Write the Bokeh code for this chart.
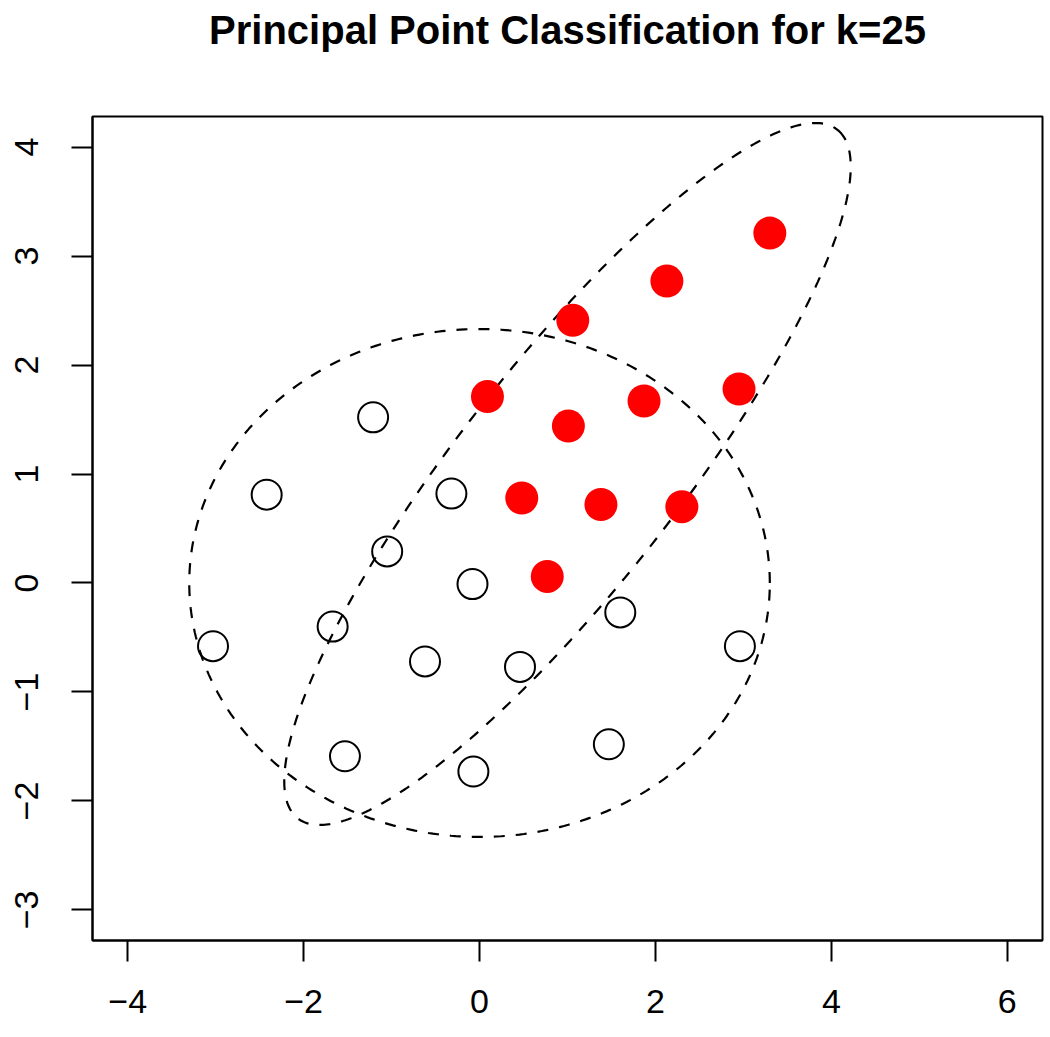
import numpy as np
from bokeh.plotting import figure
from bokeh.models import Range1d, FixedTicker, Title
from bokeh.embed import file_html
from bokeh.resources import INLINE

# ---- data ----
red_x = [3.30, 2.13, 1.06, 0.09, 1.01, 1.87, 2.95, 0.48, 1.38, 2.30, 0.77]
red_y = [3.21, 2.77, 2.41, 1.71, 1.44, 1.67, 1.78, 0.78, 0.72, 0.70, 0.06]

open_x = [-1.21, -2.42, -0.32, -1.05, -0.08, -3.03, -1.67, -0.62, 0.46, 1.60, 2.96, -1.53, -0.07, 1.47]
open_y = [1.52, 0.81, 0.82, 0.29, -0.01, -0.58, -0.40, -0.72, -0.77, -0.27, -0.58, -1.59, -1.73, -1.48]

# ellipses: centre x, centre y, semi-axis a, semi-axis b, angle of a (degrees)
ell_cx = [0.0, 1.0]
ell_cy = [0.0, 1.0]
ell_a = [3.30, 4.41]
ell_b = [2.33, 1.136]
ell_angle = [0.0, 45.0]

x_ticks = [-4, -2, 0, 2, 4, 6]
y_ticks = [-3, -2, -1, 0, 1, 2, 3, 4]
title_text = "Principal Point Classification for k=25"

FONT = "Liberation Sans"
XR = (-4.4, 6.4)
YR = (-3.28, 4.28)
FW, FH = 950, 824

p = figure(
    x_range=Range1d(*XR),
    y_range=Range1d(*YR),
    frame_width=FW, frame_height=FH,
    min_border_left=92, min_border_right=2,
    min_border_top=116, min_border_bottom=80,
    output_backend="svg", toolbar_location=None,
    background_fill_color="white", border_fill_color="white",
)

p.xgrid.visible = False
p.ygrid.visible = False
p.outline_line_color = "black"
p.outline_line_width = 2

for ax, ticks in ((p.xaxis[0], x_ticks), (p.yaxis[0], y_ticks)):
    ax.ticker = FixedTicker(ticks=ticks)
    ax.major_label_overrides = {t: (str(t).replace("-", "\u2212")) for t in ticks}
    ax.major_label_text_font = FONT
    ax.major_label_text_font_size = "34px"
    ax.major_label_text_color = "black"
    ax.axis_line_color = "black"
    ax.axis_line_width = 2
    ax.major_tick_line_color = "black"
    ax.major_tick_line_width = 2
    ax.major_tick_out = 21
    ax.major_tick_in = 0
    ax.minor_tick_line_color = None
p.xaxis[0].major_label_standoff = 28
p.yaxis[0].major_label_standoff = 33
p.yaxis[0].major_label_orientation = "vertical"

# spacer title (closest to the frame) then the real title above it
p.add_layout(Title(text=" ", text_font_size="1px", standoff=62), "above")
p.add_layout(Title(text=title_text, align="center", text_font=FONT,
                   text_font_style="bold", text_font_size="40px",
                   text_color="black", standoff=0), "above")

# ellipse outlines
t = np.linspace(0, 2 * np.pi, 400)
for cx, cy, a, b, ang in zip(ell_cx, ell_cy, ell_a, ell_b, ell_angle):
    th = np.deg2rad(ang)
    ex = cx + a * np.cos(t) * np.cos(th) - b * np.sin(t) * np.sin(th)
    ey = cy + a * np.cos(t) * np.sin(th) + b * np.sin(t) * np.cos(th)
    p.line(ex, ey, line_color="black", line_width=2.2, line_dash="11 11")

p.scatter(open_x, open_y, size=30, marker="circle", fill_color=None,
          line_color="black", line_width=2)
p.scatter(red_x, red_y, size=33, marker="circle", fill_color="red",
          line_color=None)

open("out.html", "w").write(file_html(p, INLINE))
